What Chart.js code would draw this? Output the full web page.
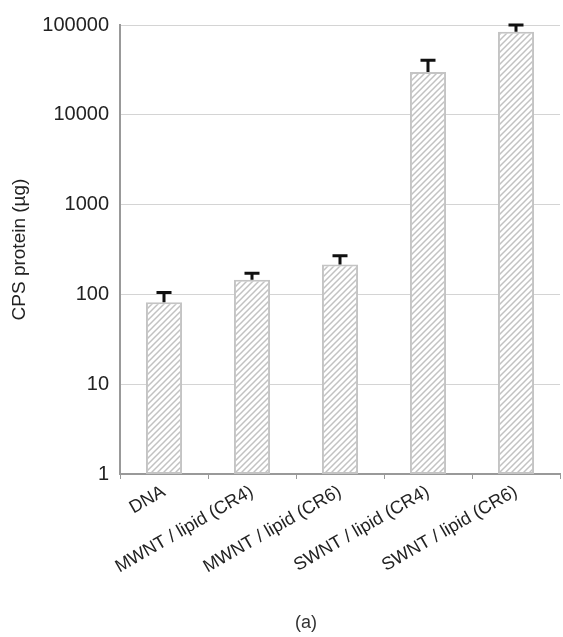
<!DOCTYPE html>
<html>
<head>
<meta charset="utf-8">
<script src="https://cdn.jsdelivr.net/npm/chart.js@4/dist/chart.umd.min.js"></script>
<style>
  html, body { margin: 0; padding: 0; background: #fff; }
  #wrap { width: 563px; height: 637px; }
</style>
</head>
<body>
<div id="wrap"><canvas id="myChart" width="563" height="637"></canvas></div>
<script>
var categories = ['DNA', 'MWNT / lipid (CR4)', 'MWNT / lipid (CR6)', 'SWNT / lipid (CR4)', 'SWNT / lipid (CR6)'];
var protein    = [82, 146, 215, 30000, 84000];
var errors     = [23, 26, 55, 10500, 16000];
var yTicks     = [1, 10, 100, 1000, 10000, 100000];
var caption    = '(a)';

// diagonal hatch fill like the original bars
function hatch() {
  var c = document.createElement('canvas');
  c.width = 6; c.height = 6;
  var g = c.getContext('2d');
  g.fillStyle = '#fff';
  g.fillRect(0, 0, 6, 6);
  g.strokeStyle = '#c2c2c2';
  g.lineWidth = 1.5;
  g.beginPath();
  g.moveTo(-1, 7); g.lineTo(7, -1);
  g.moveTo(-4, 4); g.lineTo(4, -4);
  g.moveTo(2, 10); g.lineTo(10, 2);
  g.stroke();
  return g.createPattern(c, 'repeat');
}

var errorBars = {
  id: 'errorBars',
  afterDatasetsDraw: function(chart) {
    var ctx = chart.ctx;
    var y = chart.scales.y;
    var meta = chart.getDatasetMeta(0);
    ctx.save();
    ctx.strokeStyle = '#111';
    ctx.lineWidth = 3;
    meta.data.forEach(function(bar, i) {
      var y0 = y.getPixelForValue(protein[i]);
      var y1 = y.getPixelForValue(protein[i] + errors[i]);
      ctx.beginPath();
      ctx.moveTo(bar.x, y0);
      ctx.lineTo(bar.x, y1);
      ctx.moveTo(bar.x - 7.5, y1);
      ctx.lineTo(bar.x + 7.5, y1);
      ctx.stroke();
    });
    ctx.restore();
  }
};

// the "(a)" caption under the figure
var captionText = {
  id: 'captionText',
  afterDraw: function(chart) {
    var ctx = chart.ctx;
    ctx.save();
    ctx.fillStyle = '#333';
    ctx.font = '18px "Liberation Sans"';
    ctx.textAlign = 'center';
    ctx.textBaseline = 'middle';
    ctx.fillText(caption, 306, 623);
    ctx.restore();
  }
};

var ctx = document.getElementById('myChart').getContext('2d');
var myChart = new Chart(ctx, {
  type: 'bar',
  data: {
    labels: categories,
    datasets: [{
      label: 'CPS protein',
      data: protein,
      backgroundColor: hatch(),
      borderColor: '#c4c4c4',
      borderWidth: 2,
      borderSkipped: false,
      categoryPercentage: 1,
      barPercentage: 0.41
    }]
  },
  plugins: [errorBars, captionText],
  options: {
    responsive: false,
    animation: false,
    layout: { padding: { top: 25, right: 3, left: 8, bottom: 6 } },
    plugins: {
      legend: { display: false },
      tooltip: { enabled: false }
    },
    scales: {
      x: {
        grid: { offset: true, drawOnChartArea: false, drawTicks: true, tickLength: 5, color: '#999' },
        border: { color: '#999', width: 2 },
        ticks: {
          color: '#222',
          font: { family: 'Liberation Sans', size: 18 },
          maxRotation: 30, minRotation: 30,
          padding: 2
        },
        afterFit: function(scale) { scale.height = 157; }
      },
      y: {
        type: 'logarithmic',
        min: 1,
        max: 100000,
        afterBuildTicks: function(scale) {
          scale.ticks = yTicks.map(function(v) { return { value: v }; });
        },
        afterFit: function(scale) { scale.width = 112; },
        grid: { color: '#d4d4d4', lineWidth: 1, drawTicks: false },
        border: { color: '#999', width: 2 },
        ticks: {
          color: '#222',
          padding: 11,
          font: { family: 'Liberation Sans', size: 20 },
          callback: function(v) { return String(v); }
        },
        title: {
          display: true,
          text: 'CPS protein (µg)',
          color: '#222',
          font: { family: 'Liberation Sans', size: 19 },
          padding: { top: 0, bottom: 0 }
        }
      }
    }
  }
});
</script>
</body>
</html>
